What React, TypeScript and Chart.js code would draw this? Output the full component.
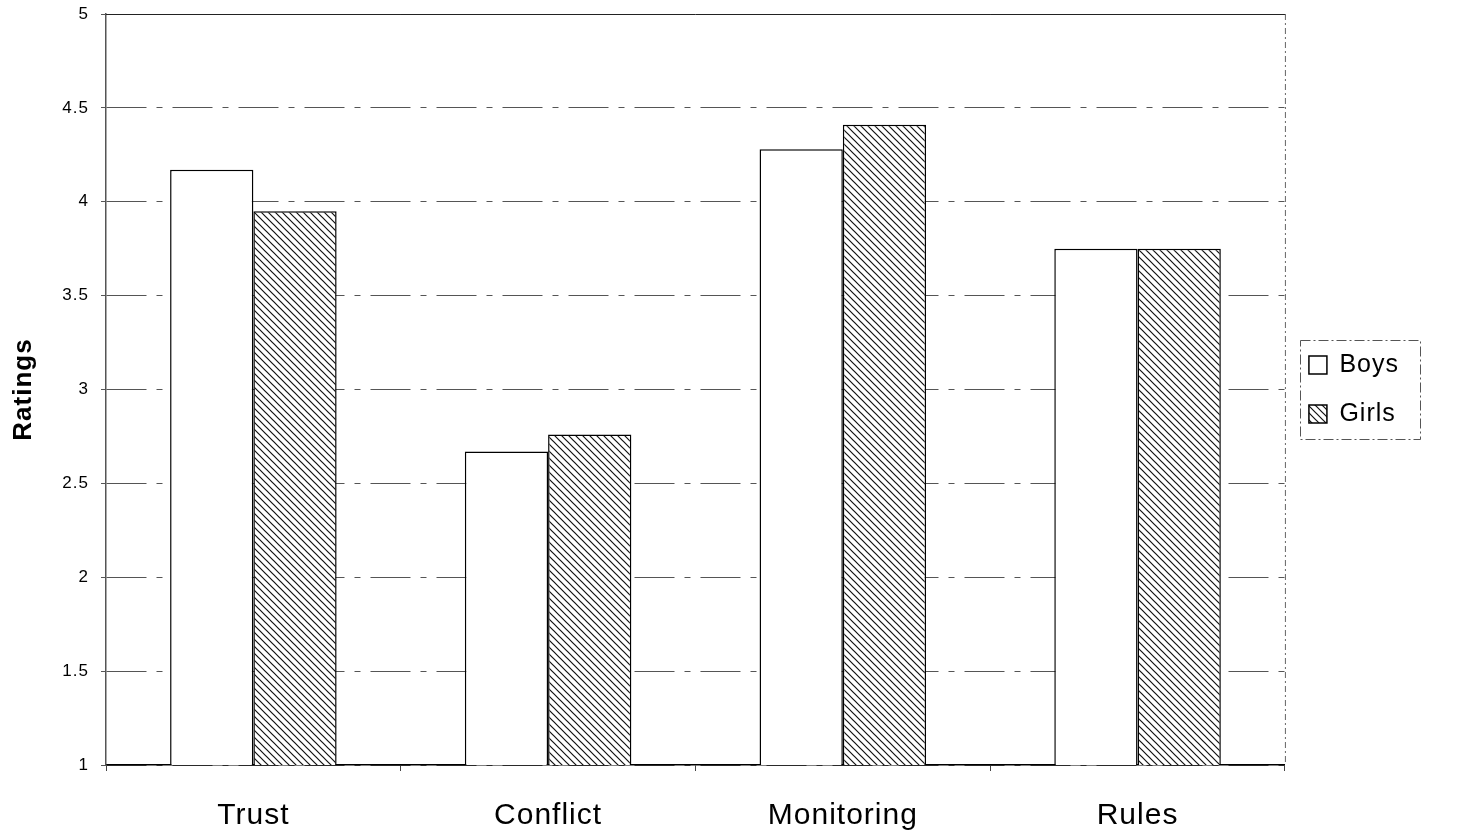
import React, { useEffect, useRef } from "react";
import { Chart, registerables } from "chart.js";

Chart.register(...registerables);

const categories = ["Trust", "Conflict", "Monitoring", "Rules"];
const boys = [4.17, 2.67, 4.28, 3.75];
const girls = [3.95, 2.76, 4.41, 3.75];
const yTicks = [1, 1.5, 2, 2.5, 3, 3.5, 4, 4.5, 5];

function makeHatch(): CanvasPattern | string {
  const s = 7;
  const c = document.createElement("canvas");
  c.width = s;
  c.height = s;
  const ctx = c.getContext("2d");
  if (!ctx) return "#888";
  ctx.fillStyle = "#ffffff";
  ctx.fillRect(0, 0, s, s);
  ctx.strokeStyle = "#111";
  ctx.lineWidth = 1.2;
  ctx.beginPath();
  ctx.moveTo(-1, -1);
  ctx.lineTo(s + 1, s + 1);
  ctx.moveTo(-1, s - 1);
  ctx.lineTo(1, s + 1);
  ctx.moveTo(s - 1, -1);
  ctx.lineTo(s + 1, 1);
  ctx.stroke();
  const p = ctx.createPattern(c, "repeat");
  return p || "#888";
}

const spacing = {
  id: "spacing",
  beforeLayout(chart: any) {
    (chart.ctx as any).letterSpacing = "1px";
  },
  beforeDraw(chart: any) {
    (chart.ctx as any).letterSpacing = "1px";
  },
};

const frame = {
  id: "frame",
  afterDatasetsDraw(chart: any) {
    const { ctx, chartArea } = chart;
    ctx.save();
    ctx.strokeStyle = "#222";
    ctx.lineWidth = 1;
    ctx.beginPath();
    ctx.moveTo(chartArea.left, chartArea.top + 0.5);
    ctx.lineTo(chartArea.right + 0.5, chartArea.top + 0.5);
    ctx.stroke();
    ctx.strokeStyle = "#666";
    ctx.setLineDash([6, 3, 2, 3]);
    ctx.beginPath();
    ctx.moveTo(chartArea.right + 0.5, chartArea.top);
    ctx.lineTo(chartArea.right + 0.5, chartArea.bottom);
    ctx.stroke();
    ctx.restore();
  },
  afterDraw(chart: any) {
    const lg = chart.legend;
    if (!lg || !lg.legendHitBoxes || !lg.legendHitBoxes.length) return;
    const hb = lg.legendHitBoxes;
    let l = Infinity, t = Infinity, b = -Infinity;
    hb.forEach((h: any) => {
      l = Math.min(l, h.left);
      t = Math.min(t, h.top);
      b = Math.max(b, h.top + h.height);
    });
    const { ctx } = chart;
    ctx.save();
    ctx.strokeStyle = "#555";
    ctx.lineWidth = 1;
    ctx.setLineDash([10, 3, 2, 3]);
    const x0 = Math.round(l - 9) + 0.5;
    const y0 = Math.round(t - 13) + 0.5;
    const x1 = 1420.5;
    const y1 = Math.round(b + 12) + 0.5;
    ctx.strokeRect(x0, y0, x1 - x0, y1 - y0);
    ctx.restore();
  },
};

export default function App() {
  const ref = useRef<HTMLCanvasElement>(null);
  useEffect(() => {
    if (!ref.current) return;
    const hatch = makeHatch();
    const chart = new Chart(ref.current, {
      type: "bar",
      data: {
        labels: categories,
        datasets: [
          {
            label: "Boys",
            data: boys,
            backgroundColor: "#ffffff",
            borderColor: "#000",
            borderWidth: 1.5,
            categoryPercentage: 0.565,
            barPercentage: 1,
          },
          {
            label: "Girls",
            data: girls,
            backgroundColor: hatch as any,
            borderColor: "#000",
            borderWidth: 1.5,
            categoryPercentage: 0.565,
            barPercentage: 1,
          },
        ],
      },
      options: {
        animation: false,
        responsive: true,
        maintainAspectRatio: false,
        layout: { padding: { top: 14, right: 60, left: 0, bottom: 0 } },
        plugins: {
          tooltip: { enabled: false },
          legend: {
            position: "right",
            align: "center",
            fullSize: false,
            labels: {
              color: "#000",
              boxWidth: 18,
              boxHeight: 18,
              padding: 24,
              font: { family: "'Liberation Sans', Arial, sans-serif", size: 25 },
            },
          },
        },
        scales: {
          x: {
            grid: {
              display: true,
              drawOnChartArea: false,
              offset: true,
              tickLength: 6,
              color: "#444",
            },
            border: { display: true, color: "#000", width: 1.5 },
            ticks: {
              color: "#000",
              padding: 27,
              font: { family: "'Liberation Sans', Arial, sans-serif", size: 30 },
            },
            afterFit: (s: any) => {
              s.height = 73;
              s.paddingLeft = 0;
              s.paddingRight = 0;
            },
          },
          y: {
            min: 1,
            max: 5,
            afterBuildTicks: (s: any) => {
              s.ticks = yTicks.map((v) => ({ value: v }));
            },
            ticks: {
              color: "#000",
              padding: 12,
              font: { family: "'Liberation Sans', Arial, sans-serif", size: 17 },
              callback: (v: any) => String(v),
            },
            grid: {
              color: "#555",
              lineWidth: 1,
              tickLength: 5,
            },
            border: { display: true, color: "#555", width: 1.5, dash: [40, 10, 6, 10] },
            title: {
              display: true,
              text: "Ratings",
              color: "#000",
              padding: { top: 8, bottom: 0 },
              font: { family: "'Liberation Sans', Arial, sans-serif", size: 26, weight: "bold" },
            },
            afterFit: (s: any) => {
              s.width = 106;
              s.paddingTop = 0;
              s.paddingBottom = 0;
            },
          },
        },
      } as any,
      plugins: [spacing, frame],
    });
    return () => chart.destroy();
  }, []);
  return (
    <div style={{ position: "fixed", left: 0, top: 0, width: 1469, height: 838, background: "#fff" }}>
      <canvas ref={ref} />
    </div>
  );
}
